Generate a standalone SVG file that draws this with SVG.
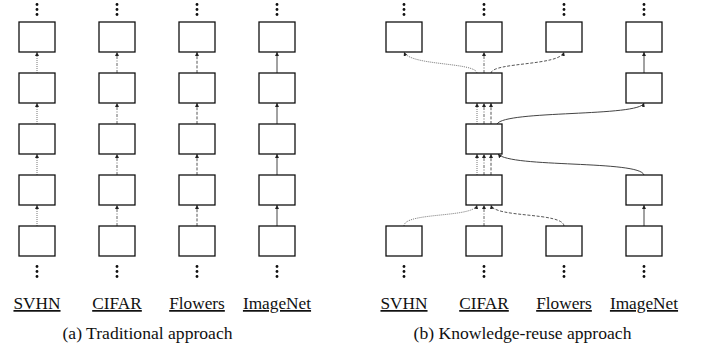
<svg xmlns="http://www.w3.org/2000/svg" width="707" height="351" viewBox="0 0 707 351">
<defs>
<marker id="ah" markerUnits="userSpaceOnUse" markerWidth="6" markerHeight="6" refX="4" refY="2" orient="auto">
<path d="M0,0 L4,2 L0,4 Z" fill="#222"/>
</marker>
<g id="dots"><circle cx="0" cy="0" r="1.4"/><circle cx="0" cy="5" r="1.4"/><circle cx="0" cy="10" r="1.4"/></g>
</defs>
<style>
.box{fill:#fff;stroke:#111;stroke-width:1.3}
.c{fill:none;stroke-width:0.9;marker-end:url(#ah)}
.dot{stroke:#666;stroke-dasharray:1 1}
.dd{stroke:#555;stroke-dasharray:3 1.5 1 1.5}
.da{stroke:#444;stroke-dasharray:3 1.6}
.so{stroke:#444;stroke-width:1}
text{font-family:"Liberation Serif","Times New Roman",serif;font-size:17.3px;text-anchor:middle;fill:#111}
.lbl{text-decoration:underline}
.cap{font-size:17.6px}
.dots{fill:#111}
</style>

<!-- Left panel: traditional -->
<g id="connectors-a">
<path class="c dot" d="M37,73V52"/><path class="c dot" d="M37,124V103"/><path class="c dot" d="M37,175V154"/><path class="c dot" d="M37,226V205"/>
<path class="c dd" d="M117,73V52"/><path class="c dd" d="M117,124V103"/><path class="c dd" d="M117,175V154"/><path class="c dd" d="M117,226V205"/>
<path class="c da" d="M197,73V52"/><path class="c da" d="M197,124V103"/><path class="c da" d="M197,175V154"/><path class="c da" d="M197,226V205"/>
<path class="c so" d="M277,73V52"/><path class="c so" d="M277,124V103"/><path class="c so" d="M277,175V154"/><path class="c so" d="M277,226V205"/>
</g>

<g id="a-svhn">
<use href="#dots" x="37" y="4.5" class="dots"/>
<rect class="box" x="19" y="22" width="36" height="30"/>
<rect class="box" x="19" y="73" width="36" height="30"/>
<rect class="box" x="19" y="124" width="36" height="30"/>
<rect class="box" x="19" y="175" width="36" height="30"/>
<rect class="box" x="19" y="226" width="36" height="30"/>
<use href="#dots" x="37" y="266.5" class="dots"/>
<text class="lbl" x="37" y="309">SVHN</text>
</g>
<g id="a-cifar">
<use href="#dots" x="117" y="4.5" class="dots"/>
<rect class="box" x="99" y="22" width="36" height="30"/>
<rect class="box" x="99" y="73" width="36" height="30"/>
<rect class="box" x="99" y="124" width="36" height="30"/>
<rect class="box" x="99" y="175" width="36" height="30"/>
<rect class="box" x="99" y="226" width="36" height="30"/>
<use href="#dots" x="117" y="266.5" class="dots"/>
<text class="lbl" x="117" y="309">CIFAR</text>
</g>
<g id="a-flowers">
<use href="#dots" x="197" y="4.5" class="dots"/>
<rect class="box" x="179" y="22" width="36" height="30"/>
<rect class="box" x="179" y="73" width="36" height="30"/>
<rect class="box" x="179" y="124" width="36" height="30"/>
<rect class="box" x="179" y="175" width="36" height="30"/>
<rect class="box" x="179" y="226" width="36" height="30"/>
<use href="#dots" x="197" y="266.5" class="dots"/>
<text class="lbl" x="197" y="309">Flowers</text>
</g>
<g id="a-imagenet">
<use href="#dots" x="277" y="4.5" class="dots"/>
<rect class="box" x="259" y="22" width="36" height="30"/>
<rect class="box" x="259" y="73" width="36" height="30"/>
<rect class="box" x="259" y="124" width="36" height="30"/>
<rect class="box" x="259" y="175" width="36" height="30"/>
<rect class="box" x="259" y="226" width="36" height="30"/>
<use href="#dots" x="277" y="266.5" class="dots"/>
<text class="lbl" x="277" y="309">ImageNet</text>
</g>
<text id="cap-a" class="cap" x="147.5" y="339">(a) Traditional approach</text>

<!-- Right panel: knowledge reuse -->
<g id="connectors-b">
<path class="c dot" d="M404,226C404,212 474,218 477,205"/>
<path class="c dd" d="M484,226V205"/>
<path class="c da" d="M564,226C563,212 494,218 491,205"/>
<path class="c so" d="M644,226V205"/>
<path class="c dot" d="M477,175V154"/>
<path class="c dd" d="M484,175V154"/>
<path class="c da" d="M491,175V154"/>
<path class="c so" d="M644,175C640,160 510,168 498,154"/>
<path class="c dot" d="M477,124V103"/>
<path class="c dd" d="M484,124V103"/>
<path class="c da" d="M491,124V103"/>
<path class="c so" d="M497,124C505,110 640,117 644,103"/>
<path class="c dot" d="M477,73C475,62 410,66 404,52"/>
<path class="c dd" d="M484,73V52"/>
<path class="c da" d="M491,73C493,62 560,66 564,52"/>
<path class="c so" d="M644,73V52"/>
</g>

<g id="b-svhn">
<use href="#dots" x="404" y="4.5" class="dots"/>
<rect class="box" x="386" y="22" width="36" height="30"/>
<rect class="box" x="386" y="226" width="36" height="30"/>
<use href="#dots" x="404" y="266.5" class="dots"/>
<text class="lbl" x="404" y="309">SVHN</text>
</g>
<g id="b-cifar">
<use href="#dots" x="484" y="4.5" class="dots"/>
<rect class="box" x="466" y="22" width="36" height="30"/>
<rect class="box" x="466" y="73" width="36" height="30"/>
<rect class="box" x="466" y="124" width="36" height="30"/>
<rect class="box" x="466" y="175" width="36" height="30"/>
<rect class="box" x="466" y="226" width="36" height="30"/>
<use href="#dots" x="484" y="266.5" class="dots"/>
<text class="lbl" x="484" y="309">CIFAR</text>
</g>
<g id="b-flowers">
<use href="#dots" x="564" y="4.5" class="dots"/>
<rect class="box" x="546" y="22" width="36" height="30"/>
<rect class="box" x="546" y="226" width="36" height="30"/>
<use href="#dots" x="564" y="266.5" class="dots"/>
<text class="lbl" x="564" y="309">Flowers</text>
</g>
<g id="b-imagenet">
<use href="#dots" x="644" y="4.5" class="dots"/>
<rect class="box" x="626" y="22" width="36" height="30"/>
<rect class="box" x="626" y="73" width="36" height="30"/>
<rect class="box" x="626" y="175" width="36" height="30"/>
<rect class="box" x="626" y="226" width="36" height="30"/>
<use href="#dots" x="644" y="266.5" class="dots"/>
<text class="lbl" x="644" y="309">ImageNet</text>
</g>
<text id="cap-b" class="cap" x="522.5" y="339">(b) Knowledge-reuse approach</text>
</svg>
